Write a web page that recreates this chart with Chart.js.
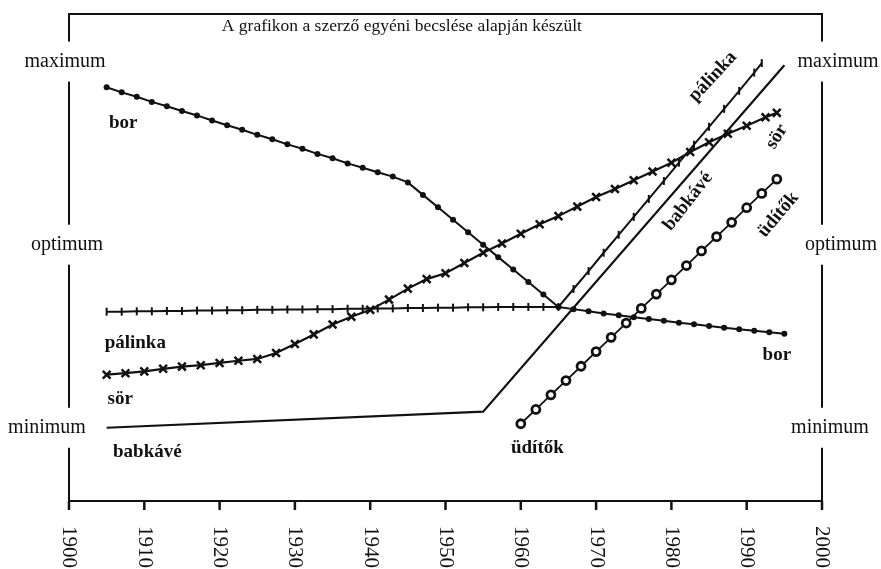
<!DOCTYPE html>
<html>
<head>
<meta charset="utf-8">
<script src="https://cdn.jsdelivr.net/npm/chart.js@4.4.1/dist/chart.umd.min.js"></script>
<style>
  html, body { margin: 0; padding: 0; background: #fff; }
</style>
</head>
<body>
<canvas id="chart" width="881" height="569"></canvas>
<script>
// values: 0 = minimum, 50 = optimum, 100 = maximum
const borYears = [1905, 1907, 1909, 1911, 1913, 1915, 1917, 1919, 1921, 1923, 1925, 1927, 1929, 1931, 1933, 1935,
    1937, 1939, 1941, 1943, 1945, 1947, 1949, 1951, 1953, 1955, 1957, 1959, 1961, 1963, 1965,
    1967, 1969, 1971, 1973, 1975, 1977, 1979, 1981, 1983, 1985, 1987, 1989, 1991, 1993, 1995];
const borValues = [93.0, 91.6, 90.4, 89.0, 87.8, 86.5, 85.3, 83.9, 82.6, 81.4, 80.0, 78.8, 77.4, 76.2, 74.8, 73.6,
    72.2, 71.0, 69.8, 68.6, 67.0, 63.6, 60.2, 56.8, 53.4, 50.0, 46.6, 43.2, 39.8, 36.4, 33.0,
    32.4, 31.8, 31.2, 30.7, 30.2, 29.7, 29.2, 28.7, 28.3, 27.8, 27.3, 26.9, 26.5, 26.1, 25.7];

const palinkaYears = [1905, 1907, 1909, 1911, 1913, 1915, 1917, 1919, 1921, 1923, 1925, 1927, 1929, 1931, 1933, 1935,
    1937, 1939, 1941, 1943, 1945, 1947, 1949, 1951, 1953, 1955, 1957, 1959, 1961, 1963, 1965,
    1967, 1969, 1971, 1973, 1975, 1977, 1979, 1981, 1983, 1985, 1987, 1989, 1991, 1992];
const palinkaValues = [31.7, 31.7, 31.8, 31.8, 31.9, 31.9, 32.0, 32.0, 32.1, 32.1, 32.2, 32.2, 32.3, 32.3, 32.4, 32.4,
    32.5, 32.5, 32.6, 32.6, 32.7, 32.7, 32.8, 32.8, 32.9, 32.9, 33.0, 33.0, 33.0, 33.0, 33.0,
    37.9, 42.8, 47.8, 52.7, 57.6, 62.5, 67.4, 72.4, 77.3, 82.2, 87.1, 92.0, 97.0, 99.6];

const sorYears = [1905, 1907.5, 1910, 1912.5, 1915, 1917.5, 1920, 1922.5, 1925, 1927.5, 1930, 1932.5, 1935, 1937.5,
    1940, 1942.5, 1945, 1947.5, 1950, 1952.5, 1955, 1957.5, 1960, 1962.5, 1965, 1967.5, 1970, 1972.5,
    1975, 1977.5, 1980, 1982.5, 1985, 1987.5, 1990, 1992.5, 1994];
const sorValues = [14.5, 14.9, 15.4, 16.1, 16.7, 17.1, 17.7, 18.3, 18.8, 20.4, 22.9, 25.5, 28.2, 30.3,
    32.2, 35.0, 38.0, 40.6, 42.2, 45.0, 47.8, 50.3, 53.0, 55.6, 57.8, 60.4, 63.0, 65.2,
    67.6, 70.0, 72.4, 75.3, 78.0, 80.3, 82.5, 84.8, 86.0];

const babkaveYears = [1905, 1955, 1995];
const babkaveValues = [0, 4.4, 99];

const uditokYears = [1960, 1962, 1964, 1966, 1968, 1970, 1972, 1974, 1976, 1978, 1980, 1982, 1984, 1986, 1988, 1990, 1992, 1994];
const uditokValues = [1.1, 5.0, 9.0, 12.9, 16.8, 20.8, 24.7, 28.6, 32.6, 36.5, 40.4, 44.3, 48.3, 52.2, 56.1, 60.1, 64.0, 67.9];

const seriesNames = ['bor', 'pálinka', 'sör', 'babkávé', 'üdítők'];
const decadeTicks = [1900, 1910, 1920, 1930, 1940, 1950, 1960, 1970, 1980, 1990, 2000];
const decadeLabels = ['1900', '1910', '1920', '1930', '1940', '1950', '1960', '1970', '1980', '1990', '2000'];
const levelValues = [100, 50, 0];
const levelNames = ['maximum', 'optimum', 'minimum'];
const titleText = 'A grafikon a szerző egyéni becslése alapján készült';

const ink = '#111';
const serif = "'Liberation Serif', 'DejaVu Serif', serif";

function pts(xs, ys) {
    return xs.map(function(x, i) { return { x: x, y: ys[i] }; });
}

// where the series names sit, in data units
const nameSpots = [
    { ds: 0, x: 1907.2, y: 83.1, rot: 0 },
    { ds: 1, x: 1908.8, y: 23.2, rot: 0 },
    { ds: 2, x: 1906.8, y: 7.7, rot: 0 },
    { ds: 3, x: 1910.4, y: -6.6, rot: 0 },
    { ds: 4, x: 1962.2, y: -5.5, rot: 0 },
    { ds: 0, x: 1994.0, y: 19.9, rot: 0 },
    { ds: 1, x: 1985.5, y: 95.9, rot: -47 },
    { ds: 2, x: 1994.0, y: 79.5, rot: -58 },
    { ds: 3, x: 1982.2, y: 61.8, rot: -52 },
    { ds: 4, x: 1994.2, y: 58.2, rot: -50 }
];
const leftShift = [-4, -2, -22];
const rightShift = [16, 19, 8];

const decor = {
    id: 'decor',
    beforeDatasetsDraw(chart) {
        const { ctx, chartArea: a } = chart;
        const x = chart.scales.x;
        ctx.save();
        ctx.strokeStyle = ink;
        ctx.lineWidth = 2;
        ctx.strokeRect(a.left, a.top, a.right - a.left, a.bottom - a.top);
        ctx.lineWidth = 2.5;
        decadeTicks.forEach(function(v) {
            const px = x.getPixelForValue(v);
            ctx.beginPath();
            ctx.moveTo(px, a.bottom);
            ctx.lineTo(px, a.bottom + 9);
            ctx.stroke();
        });
        ctx.restore();
    },
    afterDatasetsDraw(chart) {
        const { ctx, chartArea: a } = chart;
        const x = chart.scales.x, y = chart.scales.y;
        ctx.save();
        ctx.fillStyle = ink;
        ctx.textBaseline = 'middle';
        ctx.textAlign = 'center';

        // level names break the side lines
        ctx.font = '20px ' + serif;
        levelValues.forEach(function(v, i) {
            const py = y.getPixelForValue(v);
            const w = ctx.measureText(levelNames[i]).width;
            [a.left + leftShift[i], a.right + rightShift[i]].forEach(function(cx) {
                ctx.fillStyle = '#fff';
                ctx.fillRect(cx - w / 2 - 3, py - 20, w + 6, 40);
                ctx.fillStyle = ink;
                ctx.fillText(levelNames[i], cx, py);
            });
        });

        // year labels, turned clockwise
        ctx.font = '21px ' + serif;
        ctx.textAlign = 'left';
        decadeTicks.forEach(function(v, i) {
            ctx.save();
            ctx.translate(x.getPixelForValue(v), a.bottom + 25);
            ctx.rotate(Math.PI / 2);
            ctx.fillText(decadeLabels[i], 0, 0);
            ctx.restore();
        });

        ctx.textAlign = 'center';
        ctx.font = '17.5px ' + serif;
        ctx.fillText(titleText, x.getPixelForValue(1944.2), y.getPixelForValue(109.6));

        ctx.font = 'bold 19px ' + serif;
        nameSpots.forEach(function(s) {
            ctx.save();
            ctx.translate(x.getPixelForValue(s.x), y.getPixelForValue(s.y));
            ctx.rotate(s.rot * Math.PI / 180);
            ctx.fillText(chart.data.datasets[s.ds].label, 0, 0);
            ctx.restore();
        });
        ctx.restore();
    }
};

new Chart(document.getElementById('chart'), {
    type: 'line',
    data: {
        datasets: [
            { label: seriesNames[0], data: pts(borYears, borValues), borderColor: ink, borderWidth: 2,
                pointStyle: 'circle', pointRadius: 3, pointBackgroundColor: ink, pointBorderWidth: 0 },
            { label: seriesNames[1], data: pts(palinkaYears, palinkaValues), borderColor: ink, borderWidth: 2,
                pointStyle: 'line', pointRotation: 90, pointRadius: 4, pointBorderColor: ink, pointBorderWidth: 2 },
            { label: seriesNames[2], data: pts(sorYears, sorValues), borderColor: ink, borderWidth: 2.2,
                pointStyle: 'crossRot', pointRadius: 5.5, pointBorderColor: ink, pointBorderWidth: 2.5 },
            { label: seriesNames[3], data: pts(babkaveYears, babkaveValues), borderColor: ink, borderWidth: 2.2,
                pointRadius: 0 },
            { label: seriesNames[4], data: pts(uditokYears, uditokValues), borderColor: ink, borderWidth: 1.8,
                pointStyle: 'circle', pointRadius: 4, pointBackgroundColor: '#fff', pointBorderColor: ink, pointBorderWidth: 2.8 }
        ]
    },
    options: {
        responsive: false,
        animation: false,
        layout: { padding: { left: 69, right: 59, top: 14, bottom: 68 } },
        elements: { line: { tension: 0 } },
        plugins: { legend: { display: false }, tooltip: { enabled: false } },
        scales: {
            x: { type: 'linear', min: 1900, max: 2000, display: false },
            y: { min: -20, max: 113, display: false }
        }
    },
    plugins: [decor]
});
</script>
</body>
</html>
